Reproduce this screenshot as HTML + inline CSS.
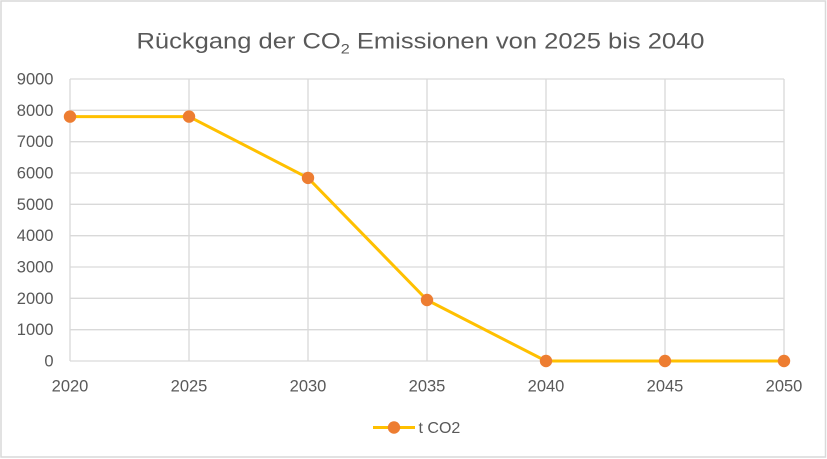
<!DOCTYPE html>
<html>
<head>
<meta charset="utf-8">
<style>
html,body{margin:0;padding:0;background:#fff;}
svg{display:block;}
text{font-family:"Liberation Sans",sans-serif;fill:#595959;}
</style>
</head>
<body>
<svg width="827" height="459" viewBox="0 0 827 459" xmlns="http://www.w3.org/2000/svg">
<rect x="0" y="0" width="827" height="459" fill="#fff"/>
<rect x="1" y="1" width="824.5" height="456" fill="none" stroke="#d9d9d9" stroke-width="1.5"/>
<text x="136.5" y="48.5" font-size="22" textLength="568" lengthAdjust="spacingAndGlyphs">Rückgang der CO<tspan font-size="14" dy="5">2</tspan><tspan dy="-5"> Emissionen von 2025 bis 2040</tspan></text>
<g stroke="#d9d9d9" stroke-width="1.3">
<line x1="70" y1="79" x2="784" y2="79"/>
<line x1="70" y1="110.3" x2="784" y2="110.3"/>
<line x1="70" y1="141.7" x2="784" y2="141.7"/>
<line x1="70" y1="173" x2="784" y2="173"/>
<line x1="70" y1="204.3" x2="784" y2="204.3"/>
<line x1="70" y1="235.7" x2="784" y2="235.7"/>
<line x1="70" y1="267" x2="784" y2="267"/>
<line x1="70" y1="298.3" x2="784" y2="298.3"/>
<line x1="70" y1="329.7" x2="784" y2="329.7"/>
<line x1="70" y1="361" x2="784" y2="361"/>
<line x1="70" y1="79" x2="70" y2="361"/>
<line x1="189" y1="79" x2="189" y2="361"/>
<line x1="308" y1="79" x2="308" y2="361"/>
<line x1="427" y1="79" x2="427" y2="361"/>
<line x1="546" y1="79" x2="546" y2="361"/>
<line x1="665" y1="79" x2="665" y2="361"/>
<line x1="784" y1="79" x2="784" y2="361"/>
</g>
<g font-size="16.5" text-anchor="end">
<text x="53.5" y="84.5">9000</text>
<text x="53.5" y="115.8">8000</text>
<text x="53.5" y="147.2">7000</text>
<text x="53.5" y="178.5">6000</text>
<text x="53.5" y="209.8">5000</text>
<text x="53.5" y="241.2">4000</text>
<text x="53.5" y="272.5">3000</text>
<text x="53.5" y="303.8">2000</text>
<text x="53.5" y="335.2">1000</text>
<text x="53.5" y="366.5">0</text>
</g>
<g font-size="16.5" text-anchor="middle">
<text x="70" y="391.5">2020</text>
<text x="189" y="391.5">2025</text>
<text x="308" y="391.5">2030</text>
<text x="427" y="391.5">2035</text>
<text x="546" y="391.5">2040</text>
<text x="665" y="391.5">2045</text>
<text x="784" y="391.5">2050</text>
</g>
<polyline points="70,116.6 189,116.6 308,177.9 427,300 546,361 665,361 784,361" fill="none" stroke="#ffc000" stroke-width="3" stroke-linejoin="round"/>
<g fill="#ed7d31">
<circle cx="70" cy="116.6" r="6.2"/>
<circle cx="189" cy="116.6" r="6.2"/>
<circle cx="308" cy="177.9" r="6.2"/>
<circle cx="427" cy="300" r="6.2"/>
<circle cx="546" cy="361" r="6.2"/>
<circle cx="665" cy="361" r="6.2"/>
<circle cx="784" cy="361" r="6.2"/>
</g>
<line x1="373" y1="427.5" x2="415" y2="427.5" stroke="#ffc000" stroke-width="3"/>
<circle cx="394" cy="427.5" r="6.2" fill="#ed7d31"/>
<text x="418.5" y="433" font-size="16">t CO2</text>
</svg>
</body>
</html>
